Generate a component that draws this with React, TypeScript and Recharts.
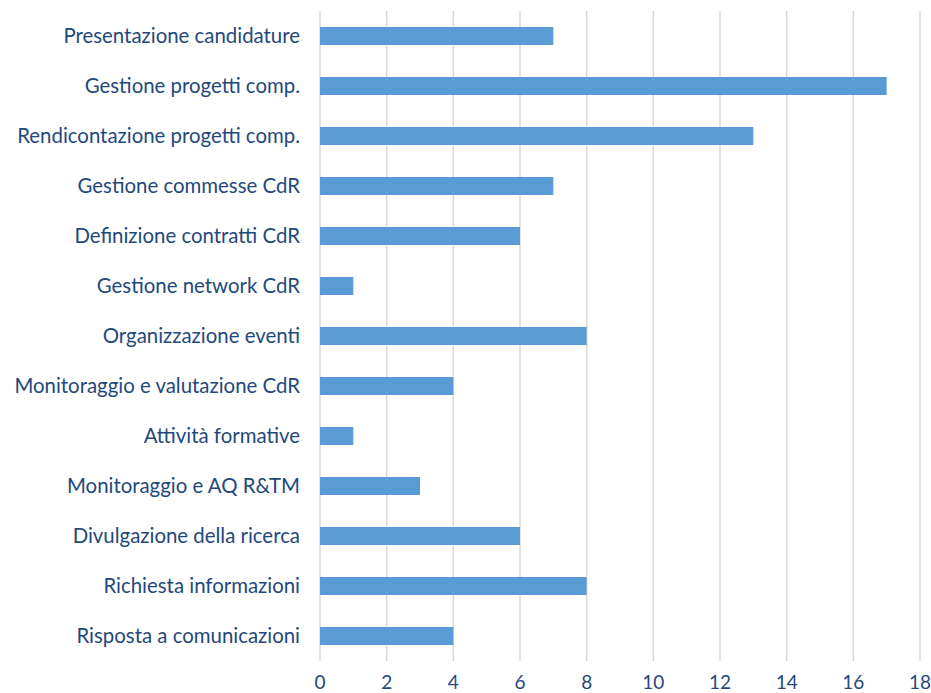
import React from "react";
import { BarChart, Bar, XAxis, YAxis, CartesianGrid } from "recharts";

const categories = [
  "Presentazione candidature",
  "Gestione progetti comp.",
  "Rendicontazione progetti comp.",
  "Gestione commesse CdR",
  "Definizione contratti CdR",
  "Gestione network CdR",
  "Organizzazione eventi",
  "Monitoraggio e valutazione CdR",
  "Attività formative",
  "Monitoraggio e AQ R&TM",
  "Divulgazione della ricerca",
  "Richiesta informazioni",
  "Risposta a comunicazioni",
];

const counts = [7, 17, 13, 7, 6, 1, 8, 4, 1, 3, 6, 8, 4];

const xTicks = [0, 2, 4, 6, 8, 10, 12, 14, 16, 18];

const data = categories.map((name, i) => ({ name, value: counts[i] }));

const textColor = "#1F497D";
const font = "Lato, 'Open Sans', sans-serif";

export default function App() {
  return (
    <div style={{ position: "absolute", left: 0, top: 0, background: "#fff" }}>
      <BarChart
        width={931}
        height={693}
        data={data}
        layout="vertical"
        margin={{ top: 11, right: 11, bottom: 0, left: 0 }}
      >
        <CartesianGrid horizontal={false} stroke="#D9D9D9" strokeWidth={1.5} />
        <XAxis
          type="number"
          domain={[0, 18]}
          ticks={xTicks}
          height={32}
          axisLine={false}
          tickLine={false}
          tickMargin={9}
          tick={{ fontSize: 19, fill: textColor, fontFamily: font }}
        />
        <YAxis
          type="category"
          dataKey="name"
          width={320}
          axisLine={false}
          tickLine={false}
          tickSize={0}
          tickMargin={20}
          interval={0}
          tick={{ fontSize: 20.4, fill: textColor, fontFamily: font }}
        />
        <Bar dataKey="value" fill="#5B9BD5" barSize={18} isAnimationActive={false} />
      </BarChart>
    </div>
  );
}
